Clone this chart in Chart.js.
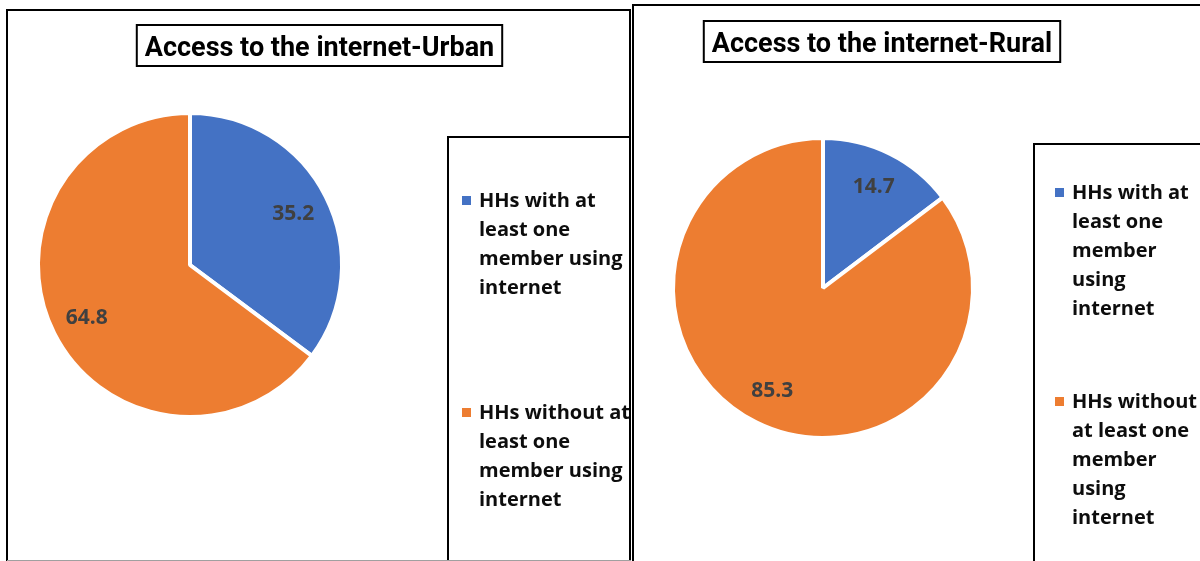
<!DOCTYPE html>
<html>
<head>
<meta charset="utf-8">
<title>Access to the internet</title>
<script src="https://cdn.jsdelivr.net/npm/chart.js@4.4.1/dist/chart.umd.min.js"></script>
<style>
  html, body { margin: 0; padding: 0; background: #fff; overflow: hidden; }
  #wrap { position: relative; width: 1200px; height: 561px; }
  canvas { position: absolute; top: 0; }
  #urban { left: 0; }
  #rural { left: 632px; }
</style>
</head>
<body>
<div id="wrap">
  <canvas id="urban" width="632" height="561"></canvas>
  <canvas id="rural" width="568" height="561"></canvas>
</div>
<script>
// 凡例ラベル（2つの円グラフで共通）
const categories = [
    "HHs with at least one member using internet",
    "HHs without at least one member using internet",
];
// 値（%）
const urbanValues = [35.2, 64.8];
const ruralValues = [14.7, 85.3];
const urbanTitle = "Access to the internet-Urban";
const ruralTitle = "Access to the internet-Rural";
const sliceColors = ["#4472C4", "#ED7D31"];

// 単語単位で折り返し
function wrapText(ctx, text, maxWidth) {
    const lines = [];
    let line = "";
    text.split(" ").forEach((w) => {
        const test = line ? line + " " + w : w;
        if (line && ctx.measureText(test).width > maxWidth) {
            lines.push(line);
            line = w;
        } else {
            line = test;
        }
    });
    if (line) lines.push(line);
    return lines;
}

// 枠・タイトル・凡例・データラベルを描くプラグイン
const excelLook = {
    id: "excelLook",
    afterDatasetsDraw(chart, args, o) {
        const ctx = chart.ctx;
        const ds = chart.data.datasets[0];
        ctx.save();

        // データラベル
        ctx.font = "bold 21px 'Open Sans'";
        ctx.fillStyle = "#404040";
        ctx.textAlign = "center";
        ctx.textBaseline = "alphabetic";
        chart.getDatasetMeta(0).data.forEach((arc, i) => {
            const p = arc.getProps(["x", "y", "startAngle", "endAngle", "outerRadius"], true);
            const mid = (p.startAngle + p.endAngle) / 2;
            const r = (p.outerRadius - 2) * 0.77;
            ctx.fillText(ds.data[i].toFixed(1), p.x + Math.cos(mid) * r, p.y + Math.sin(mid) * r + 7);
        });

        ctx.strokeStyle = "#000";
        ctx.lineWidth = 2;

        // 外枠
        ctx.strokeRect(o.panel.x, o.panel.y, o.panel.w, o.panel.h);

        // タイトル（枠付き）
        ctx.font = "bold 27px Roboto";
        const tw = ctx.measureText(o.title.text).width;
        const bw = tw + 16;
        ctx.strokeRect(o.title.cx - bw / 2, o.title.y, bw, o.title.h);
        ctx.fillStyle = "#000";
        ctx.textAlign = "center";
        ctx.fillText(o.title.text, o.title.cx, o.title.y + o.title.h / 2 + 10);

        // 凡例
        const lg = o.legend;
        ctx.strokeRect(lg.x, lg.y, lg.w, lg.h);
        ctx.font = "bold 20px 'Open Sans'";
        ctx.textAlign = "left";
        chart.data.labels.forEach((label, i) => {
            const base = lg.firstBaseline + i * lg.itemStep;
            ctx.fillStyle = ds.backgroundColor[i];
            ctx.fillRect(lg.markerX, base - 11, 9, 9);
            ctx.fillStyle = "#0d0d0d";
            wrapText(ctx, label, lg.wrap).forEach((ln, j) => {
                ctx.fillText(ln, lg.textX, base + j * 29);
            });
        });

        // 下端の薄い線
        if (o.bottomLine) {
            ctx.strokeStyle = "#a0a0a0";
            ctx.lineWidth = 1;
            ctx.beginPath();
            ctx.moveTo(o.bottomLine.x1, o.bottomLine.y);
            ctx.lineTo(o.bottomLine.x2, o.bottomLine.y);
            ctx.stroke();
        }
        ctx.restore();
    },
};

function makePie(id, values, radius, padding, look) {
    return new Chart(document.getElementById(id), {
        type: "pie",
        data: {
            labels: categories,
            datasets: [
                {
                    data: values,
                    backgroundColor: sliceColors,
                    borderColor: "#fff",
                    borderWidth: 4,
                },
            ],
        },
        options: {
            responsive: false,
            animation: false,
            events: [],
            radius: radius,
            layout: { padding: padding },
            plugins: {
                legend: { display: false },
                tooltip: { enabled: false },
                excelLook: look,
            },
        },
        plugins: [excelLook],
    });
}

Promise.all([
    document.fonts.load("bold 27px Roboto"),
    document.fonts.load("bold 20px 'Open Sans'"),
]).catch(() => {}).then(() => {
    // 都市部
    makePie("urban", urbanValues, 152, { left: 0, right: 252, top: 0, bottom: 31 }, {
        panel: { x: 7, y: 10, w: 623, h: 700 },
        title: { text: urbanTitle, cx: 319.5, y: 25, h: 41 },
        legend: { x: 448, y: 137, w: 182, h: 700, markerX: 462, textX: 479,
                  firstBaseline: 207, itemStep: 212, wrap: 152 },
        bottomLine: { x1: 7, x2: 631, y: 560.5 },
    });
    // 農村部
    makePie("rural", ruralValues, 150, { left: 0, right: 186, top: 15, bottom: 0 }, {
        panel: { x: 1, y: 5, w: 800, h: 700 },
        title: { text: ruralTitle, cx: 250, y: 21, h: 41 },
        legend: { x: 402, y: 144, w: 400, h: 700, markerX: 423, textX: 440,
                  firstBaseline: 199, itemStep: 209, wrap: 132 },
    });
});
</script>
</body>
</html>
